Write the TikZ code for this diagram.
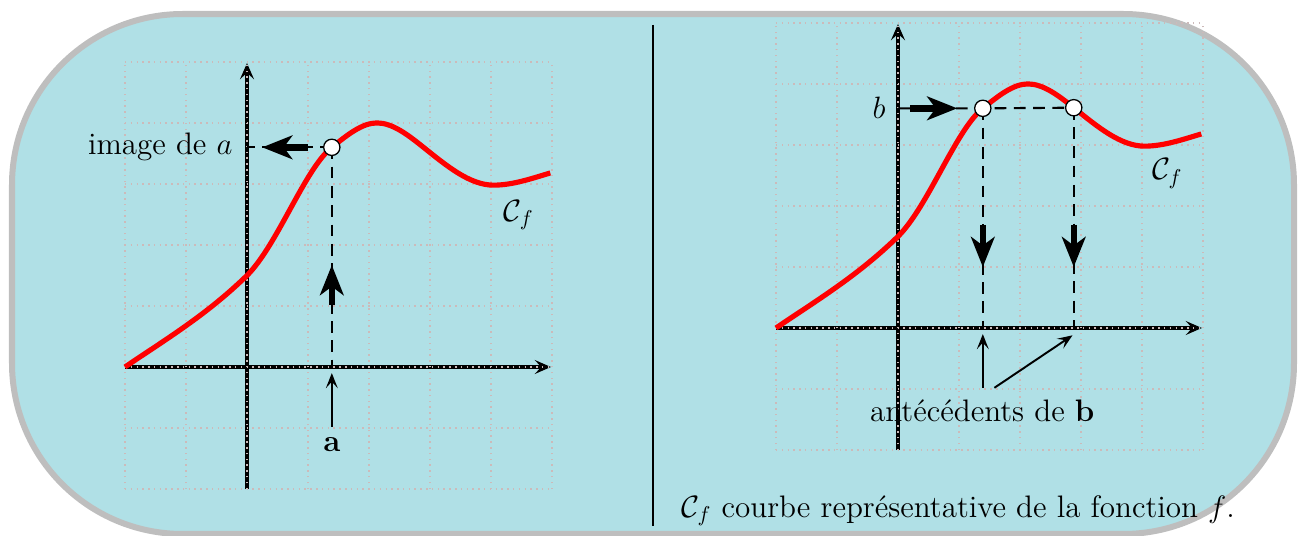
\documentclass[tikz,border=0pt]{standalone}
\usetikzlibrary{arrows.meta}
\definecolor{fondbleu}{HTML}{B0E0E6}
\definecolor{cadregris}{HTML}{BEBEBE}
\definecolor{grillecol}{RGB}{204,186,186}
\newcommand{\macourbe}{(-2,0) .. controls (-1.333,0.453) and (-0.667,0.85) .. (0,1.5)
  .. controls (0.5,2.0) and (0.95,3.25) .. (1.39,3.6)
  .. controls (1.637,3.797) and (1.883,4.0) .. (2.13,4.0)
  .. controls (2.38,4.0) and (2.63,3.81) .. (2.88,3.61)
  .. controls (3.267,3.3) and (3.65,2.98) .. (4.04,2.98)
  .. controls (4.35,2.98) and (4.66,3.087) .. (4.97,3.18)}
\begin{document}
\begin{tikzpicture}[x=0.016393cm, y=-0.016393cm,
  cadre/.style={line width=2.8pt, draw=cadregris, fill=fondbleu, rounded corners=2.8cm},
  axe/.style={line width=1.5pt, -{Stealth[length=7.5pt,width=6.5pt,inset=3pt]}},
  grillestyle/.style={draw=grillecol, line width=0.7pt, dotted},
  courbe/.style={draw=red, line width=2.4pt},
  tirets/.style={line width=1pt, dash pattern=on 5.5pt off 3.5pt},
  grosse/.style={line width=3pt, -{Stealth[length=14pt,width=11pt,inset=4pt]}},
  fine/.style={line width=0.9pt, -{Stealth[length=7pt,width=5.5pt,inset=3pt]}},
  pt/.style={circle, draw=black, fill=white, line width=0.6pt, minimum size=7.6pt, inner sep=0pt},
  txt/.style={inner sep=0pt, font=\fontsize{14.5pt}{17pt}\selectfont}]
\useasboundingbox (0,0) rectangle (1300,536);
\draw[cadre] (12,14) rectangle (1294,534);
\coordinate (s1) at (653,25);
\coordinate (s2) at (653,526);
\draw[line width=0.9pt] (s1) -- (s2);
\node[txt, anchor=base west] (legende) at (681,517) {$\mathcal{C}_f$ courbe représentative de la fonction $f$.};

% left plot
\begin{scope}[shift={(247,367)}, x=1cm, y=1cm]
  \coordinate (Lx0) at (-2,0); \coordinate (Lx1) at (4.98,0);
  \coordinate (Ly0) at (0,-2); \coordinate (Ly1) at (0,4.98);
  \draw[axe] (Lx0) -- (Lx1);
  \draw[axe] (Ly0) -- (Ly1);
  \draw[grillestyle] (-2,-2) grid (5,5);
  \draw[courbe] \macourbe;
  \coordinate (A) at (1.39,3.6);
  \coordinate (Ay) at (0,3.6);
  \coordinate (Ax) at (1.39,0);
  \draw[tirets] (A) -- (Ay);
  \draw[tirets] (A) -- (Ax);
  \coordinate (h1) at (1.0,3.6); \coordinate (h2) at (0.25,3.6);
  \draw[grosse] (h1) -- (h2);
  \coordinate (v1) at (1.39,1.02); \coordinate (v2) at (1.39,1.67);
  \draw[grosse] (v1) -- (v2);
  \node[pt] (PA) at (A) {};
  \node[txt, anchor=base] (la) at (1.39,-1.39) {$\mathbf{a}$};
  \coordinate (t1) at (1.39,-0.98); \coordinate (t2) at (1.39,-0.1);
  \draw[fine] (t1) -- (t2);
  \node[txt, anchor=base east] (ima) at (-0.23,3.48) {image de $a$};
  \node[txt, anchor=base west] (cfl) at (4.2,2.39) {$\mathcal{C}_f$};
\end{scope}

% right plot
\begin{scope}[shift={(898,328)}, x=1cm, y=1cm]
  \coordinate (Rx0) at (-2,0); \coordinate (Rx1) at (4.98,0);
  \coordinate (Ry0) at (0,-2); \coordinate (Ry1) at (0,4.98);
  \draw[axe] (Rx0) -- (Rx1);
  \draw[axe] (Ry0) -- (Ry1);
  \draw[grillestyle] (-2,-2) grid (5,5);
  \draw[courbe] \macourbe;
  \coordinate (B1) at (1.39,3.6);
  \coordinate (B2) at (2.88,3.61);
  \coordinate (By) at (0,3.6);
  \coordinate (B1x) at (1.39,0);
  \coordinate (B2x) at (2.88,0);
  \draw[tirets] (By) -- (B1) -- (B2);
  \draw[tirets] (B1) -- (B1x);
  \draw[tirets] (B2) -- (B2x);
  \coordinate (k1) at (0.2,3.6); \coordinate (k2) at (0.97,3.6);
  \draw[grosse] (k1) -- (k2);
  \coordinate (d1) at (1.39,1.69); \coordinate (d2) at (1.39,1.0);
  \draw[grosse] (d1) -- (d2);
  \coordinate (e1) at (2.88,1.69); \coordinate (e2) at (2.88,1.0);
  \draw[grosse] (e1) -- (e2);
  \node[pt] (PB1) at (B1) {};
  \node[pt] (PB2) at (B2) {};
  \node[txt, anchor=base east] (lb) at (-0.2,3.44) {$b$};
  \node[txt, anchor=base] (ant) at (1.38,-1.54) {antécédents de \textbf{b}};
  \coordinate (u1) at (1.39,-0.98); \coordinate (u2) at (1.39,-0.1);
  \draw[fine] (u1) -- (u2);
  \coordinate (w1) at (1.58,-0.98); \coordinate (w2) at (2.86,-0.12);
  \draw[fine] (w1) -- (w2);
  \node[txt, anchor=base west] (cfr) at (4.16,2.43) {$\mathcal{C}_f$};
\end{scope}
\end{tikzpicture}
\end{document}
